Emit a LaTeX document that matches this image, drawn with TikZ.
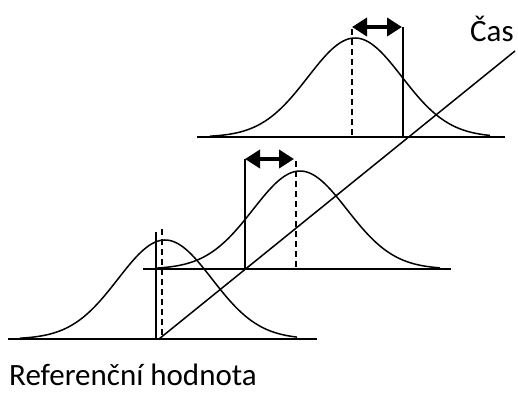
\documentclass[tikz,border=0pt]{standalone}
\usepackage{fontspec}
\setmainfont{Carlito}
\usetikzlibrary{arrows.meta}
\begin{document}
\begin{tikzpicture}[x=1pt,y=-1pt,
  ln/.style={line width=1.5pt},
  dsh/.style={line width=1.5pt,dash pattern=on 6pt off 4pt},
  dbl/.style={line width=4.5pt,{Triangle[length=15pt,width=18pt]}-{Triangle[length=15pt,width=18pt]}},
  lbl/.style={inner sep=0pt,font=\fontsize{31}{36}\selectfont}]
\useasboundingbox (0,0) rectangle (518,394);
% baselines
\draw[ln] (8,339) -- (317,339);
\draw[ln] (143,269) -- (451,269);
\draw[ln] (197,137) -- (505,137);
% gaussians
\draw[ln] plot[domain=-145:132,samples=120,smooth] ({\x+165},{339-99*exp(-0.5*(\x/47)^2)});
\draw[ln] plot[domain=-144:140,samples=120,smooth] ({\x+300},{269-98*exp(-0.5*(\x/47)^2)});
\draw[ln] plot[domain=-145:135,samples=120,smooth] ({\x+355},{137-99*exp(-0.5*(\x/47)^2)});
% time axis
\coordinate (t0) at (159,339);
\coordinate (t1) at (515,51);
\draw[ln] (t0) -- (t1);
% bottom verticals
\draw[ln] (156,232) -- (156,339);
\draw[dsh] (162,229) -- (162,339);
% middle verticals and arrow
\draw[ln] (245,159) -- (245,269);
\draw[dsh] (296,161) -- (296,269);
\draw[dbl] (245,159) -- (294,159);
% top verticals and arrow
\draw[dsh] (352,29) -- (352,137);
\draw[ln] (403,27) -- (403,137);
\draw[dbl] (352,27) -- (402,27);
% labels
\node[lbl,anchor=base west] (cas) at (470,41) {Čas};
\node[lbl,anchor=base west] (ref) at (9,385) {Referenční hodnota};
\end{tikzpicture}
\end{document}
